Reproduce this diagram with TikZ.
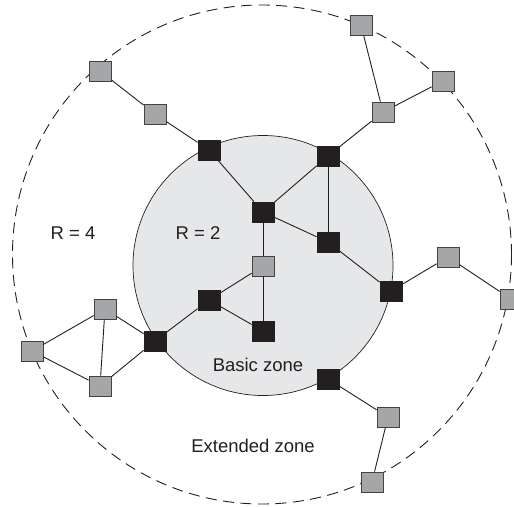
\documentclass[tikz,border=0pt]{standalone}
\usepackage{fontspec}
\setmainfont{Liberation Sans}
\definecolor{nodeblack}{RGB}{35,31,32}
\definecolor{nodegray}{RGB}{165,166,168}
\definecolor{zonegray}{RGB}{230,231,232}
\tikzset{
  core/.style={rectangle, draw=nodeblack, fill=nodeblack, line width=0.8pt,
    minimum width=22pt, minimum height=20pt, inner sep=0pt},
  peer/.style={rectangle, draw=nodeblack!85, fill=nodegray, line width=0.8pt,
    minimum width=22pt, minimum height=20pt, inner sep=0pt},
  link/.style={draw=nodeblack, line width=0.9pt},
  label/.style={font=\fontsize{18.5}{20}\selectfont, text=nodeblack, inner sep=0pt}
}
\begin{document}
\begin{tikzpicture}[x=1pt, y=-1pt]
\useasboundingbox (0,0) rectangle (514,506);
\clip (0,0) rectangle (514,506);
% extended zone boundary
\draw[nodeblack, line width=0.9pt, dash pattern=on 11pt off 6.5pt] (262,254.5) circle (249.5);
% basic zone
\draw[fill=zonegray, draw=nodeblack, line width=0.7pt] (263,265.5) circle (130);
% core routers
\node[core] (b1) at (209,150) {};
\node[core] (b2) at (263,212) {};
\node[core] (b3) at (328,156) {};
\node[core] (b4) at (328,242) {};
\node[core] (b5) at (391,291) {};
\node[core] (b6) at (328,379) {};
\node[core] (b7) at (263,331) {};
\node[core] (b8) at (209,300) {};
\node[core] (b9) at (155,341) {};
% peripheral routers
\node[peer] (g1) at (100,71) {};
\node[peer] (g2) at (155,114) {};
\node[peer] (g3) at (361,25) {};
\node[peer] (g4) at (443,81) {};
\node[peer] (g5) at (383,112) {};
\node[peer] (g6) at (263,266) {};
\node[peer] (g7) at (448,257) {};
\node[peer] (g8) at (511,299) {};
\node[peer] (g9) at (388,417) {};
\node[peer] (g10) at (372,482) {};
\node[peer] (g11) at (32,351) {};
\node[peer] (g12) at (105,309) {};
\node[peer] (g13) at (100,386) {};
% links
\draw[link] (g1) -- (g2);
\draw[link] (g2) -- (b1);
\draw[link] (b1) -- (b2);
\draw[link] (b2) -- (b3);
\draw[link] (b2) -- (b4);
\draw[link] (b3) -- (b4);
\draw[link] (b3) -- (g5);
\draw[link] (g5) -- (g3);
\draw[link] (g5) -- (g4);
\draw[link] (b4) -- (b5);
\draw[link] (b5) -- (g7);
\draw[link] (g7) -- (g8);
\draw[link] (b2) -- (g6);
\draw[link] (g6) -- (b7);
\draw[link] (g6) -- (b8);
\draw[link] (b8) -- (b7);
\draw[link] (b8) -- (b9);
\draw[link] (b9) -- (g12);
\draw[link] (b9) -- (g13);
\draw[link] (g12) -- (g11);
\draw[link] (g11) -- (g13);
\draw[link] (g12) -- (g13);
\draw[link] (b6) -- (g9);
\draw[link] (g9) -- (g10);
% labels
\node[label] (r4) at (73,233) {R = 4};
\node[label] (r2) at (198,233) {R = 2};
\node[label] (basic) at (258,365) {Basic zone};
\node[label] (ext) at (253,446) {Extended zone};
\end{tikzpicture}
\end{document}
